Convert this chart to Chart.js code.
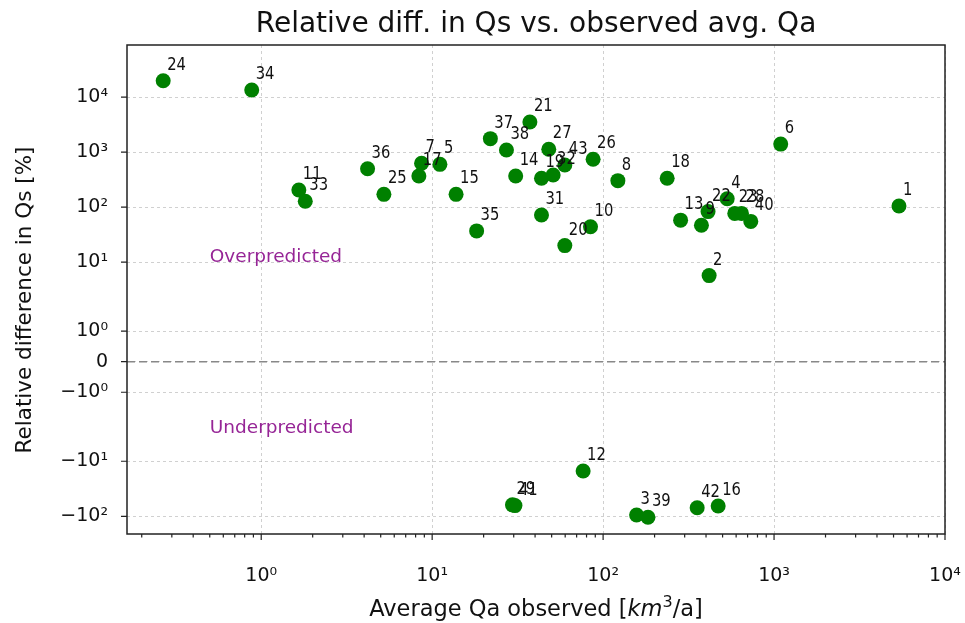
<!DOCTYPE html>
<html>
<head>
<meta charset="utf-8">
<script src="https://cdn.jsdelivr.net/npm/chart.js@4.4.1/dist/chart.umd.min.js"></script>
<style>
  html, body { margin: 0; padding: 0; background: #fff; }
  #wrap { width: 965px; height: 623px; }
</style>
</head>
<body>
<div id="wrap"><canvas id="chart"></canvas></div>
<script>
// station ids, observed avg Qa [km3/a] and relative diff in Qs [%]
var pointLabels = ['1','2','3','4','5','6','7','8','9','10','11','12','13','14','15','16','17','18','19','20',
                   '21','22','23','24','25','26','27','28','29','31','32','33','34','35','36','37','38','39','40','41','42','43'];
var qaObserved = [5380, 417, 157, 532, 11.1, 1094, 8.67, 122, 376, 84.4, 1.66, 76.4, 284, 30.8, 13.8, 471, 8.36, 237, 43.6, 59.7,
                  37.3, 411, 589, 0.267, 5.22, 87.4, 48.1, 645, 29.5, 43.6, 51.0, 1.81, 0.88, 18.2, 4.19, 21.9, 27.2, 183, 731, 30.5, 355, 59.7];
var qsRelDiff = [105, 5.7, -95, 142, 600, 1400, 627, 303, 47, 44, 205, -15, 58, 368, 171, -65, 368, 335, 335, 20,
                 3530, 83, 77, 19900, 171, 741, 1127, 77, -62, 72, 384, 128, 13500, 37, 500, 1758, 1094, -104, 55, -64, -70, 584];

var xMajorTicks = [1, 10, 100, 1000, 10000];
var xTickLabels = ['10⁰', '10¹', '10²', '10³', '10⁴'];
var yTicks = [10000, 1000, 100, 10, 1, 0, -1, -10, -100];
var yTickLabels = ['10⁴', '10³', '10²', '10¹', '10⁰', '0', '−10⁰', '−10¹', '−10²'];

// symlog, linthresh 2, linscale 1 (matplotlib style)
var LINTHRESH = 2, LINSCALE = 1 / (1 - 1 / 10);
function symlog(v) {
    var a = Math.abs(v);
    var t = a <= LINTHRESH ? a * LINSCALE : LINTHRESH * (LINSCALE + Math.log10(a / LINTHRESH));
    return v < 0 ? -t : t;
}
function symexp(t) {
    var a = Math.abs(t);
    var v = a <= LINTHRESH * LINSCALE ? a / LINSCALE : LINTHRESH * Math.pow(10, a / LINTHRESH - LINSCALE);
    return t < 0 ? -v : v;
}

class SymlogScale extends Chart.Scale {
    static id = 'symlog';
    static defaults = {};
    determineDataLimits() {
        this.min = this.options.min;
        this.max = this.options.max;
    }
    buildTicks() {
        return yTicks.map(function(v) { return { value: v, major: true }; });
    }
    configure() {
        super.configure();
        this._t0 = symlog(this.min);
        this._t1 = symlog(this.max);
    }
    getPixelForValue(v) {
        return this.getPixelForDecimal((symlog(v) - this._t0) / (this._t1 - this._t0));
    }
    getValueForPixel(p) {
        return symexp(this._t0 + this.getDecimalForPixel(p) * (this._t1 - this._t0));
    }
    getLabelForValue(v) { return String(v); }
}
Chart.register(SymlogScale);

var gridColor = 'rgba(170,170,170,0.55)';

var decorations = {
    id: 'decorations',
    beforeDatasetsDraw: function(chart) {
        var ctx = chart.ctx, a = chart.chartArea, y = chart.scales.y;
        ctx.save();
        // zero line
        var y0 = y.getPixelForValue(0);
        ctx.strokeStyle = '#888';
        ctx.lineWidth = 1.5;
        ctx.setLineDash([8, 4]);
        ctx.beginPath();
        ctx.moveTo(a.left, y0);
        ctx.lineTo(a.right, y0);
        ctx.stroke();
        ctx.restore();
    },
    afterDatasetsDraw: function(chart) {
        var ctx = chart.ctx, a = chart.chartArea, x = chart.scales.x, y = chart.scales.y;
        ctx.save();
        // title
        ctx.fillStyle = '#111';
        ctx.font = '28px "DejaVu Sans"';
        ctx.textAlign = 'center';
        ctx.textBaseline = 'alphabetic';
        ctx.fillText('Relative diff. in Qs vs. observed avg. Qa', (a.left + a.right) / 2, 32);

        // point labels
        ctx.font = '18px "DejaVu Sans"';
        ctx.textAlign = 'left';
        for (var i = 0; i < pointLabels.length; i++) {
            var px = x.getPixelForValue(qaObserved[i]) + 4;
            var py = y.getPixelForValue(qsRelDiff[i]) - 11;
            ctx.save();
            ctx.translate(px, py);
            ctx.scale(0.82, 1);
            ctx.fillText(pointLabels[i], 0, 0);
            ctx.restore();
        }
        // region notes
        ctx.fillStyle = '#962596';
        ctx.font = '18.5px "DejaVu Sans"';
        ctx.fillText('Overpredicted', x.getPixelForValue(0.5), y.getPixelForValue(10));
        ctx.fillText('Underpredicted', x.getPixelForValue(0.5), y.getPixelForValue(-3));

        // frame
        ctx.strokeStyle = '#222';
        ctx.lineWidth = 1.5;
        ctx.strokeRect(a.left, a.top, a.right - a.left, a.bottom - a.top);

        // tick marks
        ctx.lineWidth = 1.2;
        ctx.beginPath();
        x.ticks.forEach(function(t) {
            var p = x.getPixelForValue(t.value);
            ctx.moveTo(p, a.bottom);
            ctx.lineTo(p, a.bottom + (t.major ? 6 : 3.5));
        });
        y.ticks.forEach(function(t) {
            var p = y.getPixelForValue(t.value);
            ctx.moveTo(a.left, p);
            ctx.lineTo(a.left - 6, p);
        });
        ctx.stroke();

        // axis titles
        ctx.fillStyle = '#111';
        var parts = [
            { t: 'Average Qa observed [', f: '22.5px "DejaVu Sans"', dy: 0 },
            { t: 'km', f: 'italic 22.5px "DejaVu Sans"', dy: 0 },
            { t: '3', f: '16px "DejaVu Sans"', dy: -9 },
            { t: '/a]', f: '22.5px "DejaVu Sans"', dy: 0 }
        ];
        var w = 0;
        parts.forEach(function(p) { ctx.font = p.f; w += ctx.measureText(p.t).width; });
        var cx = (a.left + a.right) / 2 - w / 2;
        parts.forEach(function(p) {
            ctx.font = p.f;
            ctx.fillText(p.t, cx, 616 + p.dy);
            cx += ctx.measureText(p.t).width;
        });
        ctx.save();
        ctx.translate(31, 300);
        ctx.rotate(-Math.PI / 2);
        ctx.font = '21.5px "DejaVu Sans"';
        ctx.textAlign = 'center';
        ctx.fillText('Relative difference in Qs [%]', 0, 0);
        ctx.restore();
        ctx.restore();
    }
};

Chart.defaults.font.family = '"DejaVu Sans"';
Chart.defaults.color = '#111';

var points = qaObserved.map(function(q, i) { return { x: q, y: qsRelDiff[i] }; });

new Chart(document.getElementById('chart'), {
    type: 'scatter',
    data: {
        datasets: [{
            data: points,
            backgroundColor: '#008000',
            borderWidth: 0,
            pointRadius: 7.5,
            pointHoverRadius: 7.5
        }]
    },
    options: {
        responsive: true,
        maintainAspectRatio: false,
        animation: false,
        events: [],
        layout: { padding: { left: 0, right: 20, top: 45, bottom: 0 } },
        plugins: {
            legend: { display: false },
            tooltip: { enabled: false },
            title: { display: false }
        },
        scales: {
            x: {
                type: 'logarithmic',
                min: 0.164,
                max: 10000,
                afterBuildTicks: function(axis) {
                    var t = [];
                    for (var e = -1; e <= 4; e++) {
                        for (var m = 1; m <= 9; m++) {
                            var v = m * Math.pow(10, e);
                            if (v >= axis.min && v <= axis.max * 1.0001) t.push({ value: v, major: m === 1 });
                        }
                    }
                    axis.ticks = t;
                },
                afterFit: function(scale) {
                    scale.height = 89;
                    scale.paddingLeft = 0;
                    scale.paddingRight = 0;
                },
                grid: {
                    drawTicks: false,
                    color: function(c) { return c.tick && c.tick.major ? gridColor : 'rgba(0,0,0,0)'; },
                    lineWidth: 1
                },
                border: { display: false, dash: [3, 3] },
                ticks: {
                    autoSkip: false,
                    maxRotation: 0,
                    padding: 31,
                    font: { size: 19 },
                    callback: function(v, i, ticks) {
                        var k = xMajorTicks.indexOf(ticks[i].value);
                        return ticks[i].major && k >= 0 ? xTickLabels[k] : '';
                    }
                }
            },
            y: {
                type: 'symlog',
                min: -210,
                max: 88700,
                afterFit: function(scale) {
                    scale.width = 127;
                    scale.paddingTop = 0;
                    scale.paddingBottom = 0;
                },
                grid: { drawTicks: false, color: gridColor, lineWidth: 1 },
                border: { display: false, dash: [3, 3] },
                ticks: {
                    autoSkip: false,
                    padding: 19,
                    font: { size: 19 },
                    callback: function(v, i) { return yTickLabels[i]; }
                }
            }
        }
    },
    plugins: [decorations]
});
</script>
</body>
</html>
